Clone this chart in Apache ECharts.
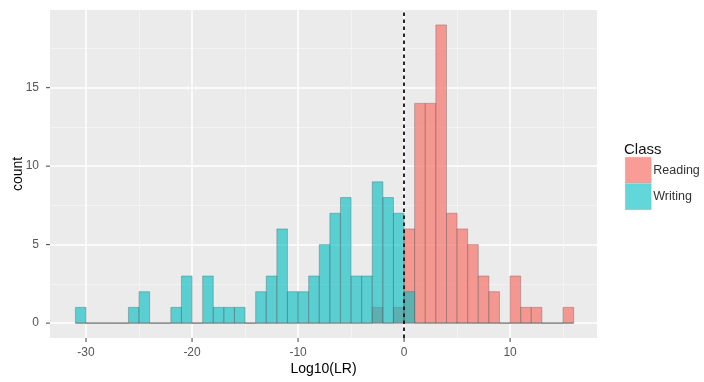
<!DOCTYPE html>
<html>
<head>
<meta charset="utf-8">
<script src="https://cdn.jsdelivr.net/npm/echarts@6/dist/echarts.min.js"></script>
<style>
  html, body { margin: 0; padding: 0; background: #fff; }
  #chart { width: 704px; height: 382px; }
</style>
</head>
<body>
<div id="chart"></div>
<script>
// bins of width 1, start values
const binStarts = [];
for (let k = -31; k <= 15; k++) binStarts.push(k);

// counts per bin, -31 .. 15
const writingCounts = [1, 0, 0, 0, 0, 1, 2, 0, 0, 1, 3, 0, 3, 1, 1, 1, 0, 2, 3, 6, 2, 2, 3, 5, 7, 8, 3, 3, 9, 8, 7, 2,
  0, 0, 0, 0, 0, 0, 0, 0, 0, 0, 0, 0, 0, 0, 0];
const readingCounts = [0, 0, 0, 0, 0, 0, 0, 0, 0, 0, 0, 0, 0, 0, 0, 0, 0, 0, 0, 0, 0, 0, 0, 0, 0, 0, 0, 0, 1, 0, 1, 6,
  14, 14, 19, 7, 6, 5, 3, 2, 0, 3, 1, 1, 0, 0, 1];

const xMajor = [-30, -20, -10, 0, 10];
const xMinor = [-25, -15, -5, 5, 15];
const yMajor = [0, 5, 10, 15];
const yMinor = [2.5, 7.5, 12.5, 17.5];

const xRange = [-33.4, 18.2];
const yRange = [-0.95, 19.95];

const classes = ['Reading', 'Writing'];
const fills = ['rgba(248,118,109,0.72)', 'rgba(0,191,196,0.62)'];

function binData(counts) {
  return binStarts.map((s, i) => [s, s + 1, counts[i]]);
}

function renderItem(params, api) {
  const p0 = api.coord([api.value(0), 0]);
  const p1 = api.coord([api.value(1), api.value(2)]);
  return {
    type: 'rect',
    shape: { x: p0[0], y: p1[1], width: p1[0] - p0[0], height: p0[1] - p1[1] },
    style: { fill: api.visual('color'), stroke: 'rgba(90,90,90,0.55)', lineWidth: 0.7 }
  };
}

// small tick marks outside the panel, like ggplot
function xTick(params, api) {
  const p = api.coord([api.value(0), yRange[0]]);
  return { type: 'line', shape: { x1: p[0], y1: p[1], x2: p[0], y2: p[1] + 4 }, style: { stroke: '#444', lineWidth: 1 } };
}
function yTick(params, api) {
  const p = api.coord([xRange[0], api.value(1)]);
  return { type: 'line', shape: { x1: p[0] - 4, y1: p[1], x2: p[0], y2: p[1] }, style: { stroke: '#444', lineWidth: 1 } };
}

const font = 'Liberation Sans, Arial, sans-serif';
const chart = echarts.init(document.getElementById('chart'), null, { renderer: 'canvas' });

chart.setOption({
  animation: false,
  textStyle: { fontFamily: font },
  grid: {
    left: 50, right: 107, top: 10, bottom: 44, containLabel: false, outerBoundsMode: 'none',
    show: true, backgroundColor: '#EBEBEB', borderWidth: 0
  },
  title: {
    text: 'Class', left: 619, top: 137,
    textStyle: { fontFamily: font, fontSize: 15, fontWeight: 'normal', color: '#111' }
  },
  legend: {
    data: classes, orient: 'vertical', left: 620, top: 152,
    itemWidth: 26, itemHeight: 26, itemGap: 0, icon: 'rect',
    itemStyle: { borderColor: 'rgba(120,120,120,0.3)', borderWidth: 0.5 },
    textStyle: { fontFamily: font, fontSize: 12.5, color: '#333', padding: [0, 0, 0, -3] }
  },
  xAxis: [
    {
      type: 'value', min: xRange[0], max: xRange[1],
      name: 'Log10(LR)', nameLocation: 'middle', nameGap: 24, nameMoveOverlap: false,
      nameTextStyle: { fontFamily: font, fontSize: 14, color: '#000' },
      axisLine: { show: false },
      axisTick: { show: false, customValues: xMajor },
      axisLabel: { customValues: xMajor, margin: 9, fontSize: 12, color: '#555', fontFamily: font },
      splitLine: { show: true, lineStyle: { color: '#fff', width: 1.5 } }
    },
    {
      type: 'value', min: xRange[0], max: xRange[1], position: 'top',
      axisLine: { show: false },
      axisTick: { show: false, customValues: xMinor },
      axisLabel: { show: false, customValues: xMinor },
      splitLine: { show: true, lineStyle: { color: '#F5F5F5', width: 0.8 } }
    }
  ],
  yAxis: [
    {
      type: 'value', min: yRange[0], max: yRange[1],
      name: 'count', nameLocation: 'middle', nameGap: 25, nameRotate: 90, nameMoveOverlap: false,
      nameTextStyle: { fontFamily: font, fontSize: 14, color: '#000' },
      axisLine: { show: false },
      axisTick: { show: false, customValues: yMajor },
      axisLabel: { customValues: yMajor, margin: 11, fontSize: 12, color: '#555', fontFamily: font },
      splitLine: { show: true, lineStyle: { color: '#fff', width: 1.5 } }
    },
    {
      type: 'value', min: yRange[0], max: yRange[1], position: 'right',
      axisLine: { show: false },
      axisTick: { show: false, customValues: yMinor },
      axisLabel: { show: false, customValues: yMinor },
      splitLine: { show: true, lineStyle: { color: '#F5F5F5', width: 0.8 } }
    }
  ],
  series: [
    {
      name: 'Reading', type: 'custom', renderItem: renderItem,
      xAxisIndex: 0, yAxisIndex: 0,
      itemStyle: { color: fills[0], borderColor: 'rgba(90,90,90,0.55)', borderWidth: 0.7 },
      encode: { x: [0, 1], y: 2 },
      data: binData(readingCounts),
      z: 2
    },
    {
      name: 'Writing', type: 'custom', renderItem: renderItem,
      xAxisIndex: 0, yAxisIndex: 0,
      itemStyle: { color: fills[1], borderColor: 'rgba(90,90,90,0.55)', borderWidth: 0.7 },
      encode: { x: [0, 1], y: 2 },
      data: binData(writingCounts),
      z: 3,
      markLine: {
        silent: true, symbol: 'none', label: { show: false },
        lineStyle: { color: '#111', type: [3.5, 3.5], width: 1.8 },
        data: [{ xAxis: 0 }]
      }
    },
    {
      name: 'xticks', type: 'custom', renderItem: xTick, silent: true, clip: false,
      xAxisIndex: 0, yAxisIndex: 0, encode: { x: 0, y: 1 },
      data: xMajor.map(v => [v, 0]), z: 4
    },
    {
      name: 'yticks', type: 'custom', renderItem: yTick, silent: true, clip: false,
      xAxisIndex: 0, yAxisIndex: 0, encode: { x: 0, y: 1 },
      data: yMajor.map(v => [0, v]), z: 4
    }
  ]
});
</script>
</body>
</html>
